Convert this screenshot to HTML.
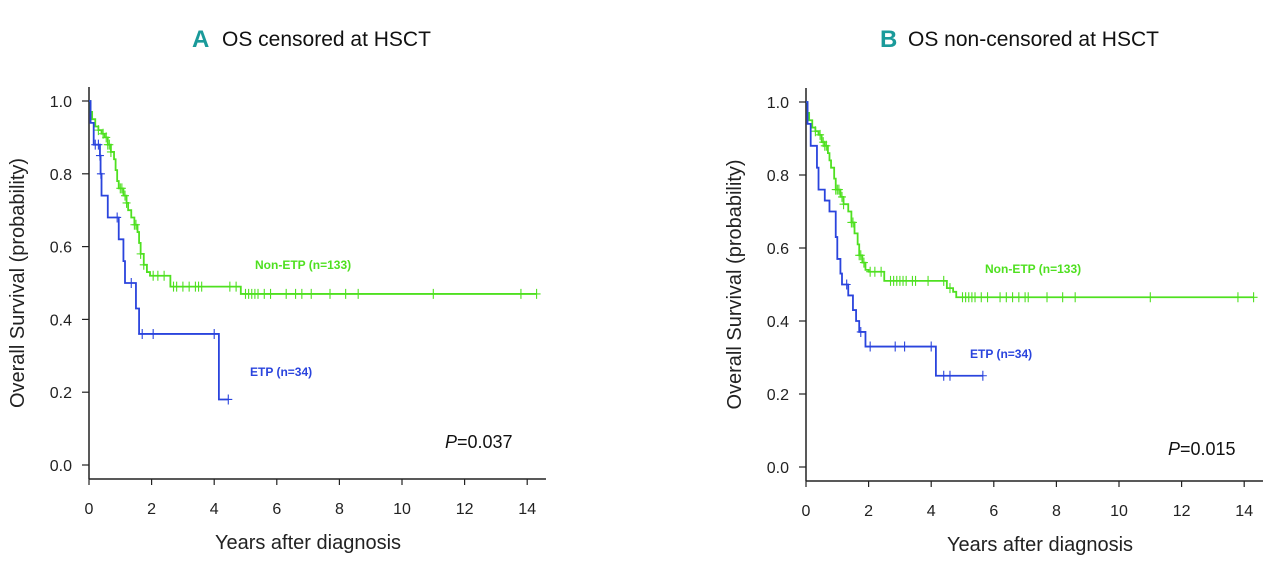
<!DOCTYPE html>
<html><head><meta charset="utf-8"><style>
body{margin:0;background:#fff;width:1280px;height:561px;overflow:hidden}
svg{display:block}
text{font-family:"Liberation Sans",sans-serif}
</style></head><body>
<svg id="fig" width="1280" height="561" xmlns="http://www.w3.org/2000/svg">
<text x="192" y="47" font-size="24" font-weight="bold" fill="#1a9a9a">A</text>
<text x="222" y="46" font-size="21" fill="#111">OS censored at HSCT</text>
<text x="880" y="47" font-size="24" font-weight="bold" fill="#1a9a9a">B</text>
<text x="908" y="46" font-size="21" fill="#111">OS non-censored at HSCT</text>
</svg>
<script>
const xTicks=[0,2,4,6,8,10,12,14];
const yTicks=[0,0.2,0.4,0.6,0.8,1.0];
const yTickLabels=["0.0","0.2","0.4","0.6","0.8","1.0"];
// Panel A
const aEtpSteps=[[0,1],[0.05,0.94],[0.15,0.88],[0.35,0.85],[0.37,0.80],[0.4,0.74],[0.6,0.68],[0.95,0.62],[1.1,0.56],[1.15,0.50],[1.5,0.43],[1.6,0.36],[4.15,0.18]];
const aEtpEnd=4.45;
const aEtpCensor=[0.2,0.3,0.35,0.38,0.9,1.35,1.7,2.05,4.0,4.45];
const aNonSteps=[[0,1],[0.05,0.97],[0.1,0.95],[0.2,0.93],[0.3,0.92],[0.4,0.91],[0.5,0.90],[0.6,0.88],[0.7,0.86],[0.8,0.84],[0.85,0.81],[0.9,0.78],[0.95,0.76],[1.1,0.74],[1.2,0.72],[1.25,0.70],[1.35,0.68],[1.45,0.66],[1.55,0.64],[1.6,0.61],[1.65,0.58],[1.75,0.55],[1.85,0.53],[1.95,0.52],[2.6,0.49],[4.85,0.47]];
const aNonEnd=14.3;
const aNonCensor=[0.3,0.45,0.55,0.6,0.65,0.7,1.0,1.05,1.15,1.2,1.45,1.5,1.65,1.75,2.05,2.2,2.4,2.7,2.8,3.0,3.2,3.4,3.5,3.6,4.5,4.7,5.0,5.1,5.2,5.3,5.4,5.6,5.8,6.3,6.6,6.8,7.1,7.7,8.2,8.6,11.0,13.8,14.3];
// Panel B
const bEtpSteps=[[0,1],[0.05,0.94],[0.15,0.88],[0.35,0.82],[0.4,0.76],[0.6,0.73],[0.75,0.70],[0.95,0.63],[1.0,0.57],[1.1,0.53],[1.15,0.50],[1.35,0.47],[1.5,0.43],[1.6,0.40],[1.7,0.37],[1.9,0.33],[4.15,0.25]];
const bEtpEnd=5.65;
const bEtpCensor=[1.3,1.75,2.05,2.85,3.15,4.0,4.4,4.6,5.65];
const bNonSteps=[[0,1],[0.05,0.97],[0.1,0.95],[0.2,0.93],[0.3,0.92],[0.4,0.91],[0.5,0.89],[0.6,0.88],[0.7,0.86],[0.75,0.84],[0.8,0.82],[0.9,0.79],[0.95,0.76],[1.1,0.74],[1.2,0.72],[1.35,0.70],[1.45,0.67],[1.55,0.64],[1.65,0.61],[1.7,0.58],[1.8,0.56],[1.9,0.54],[2.0,0.535],[2.5,0.51],[4.5,0.49],[4.7,0.48],[4.8,0.465]];
const bNonEnd=14.3;
const bNonCensor=[0.3,0.45,0.55,0.6,0.65,0.95,1.0,1.05,1.15,1.2,1.45,1.5,1.7,1.75,1.85,2.05,2.2,2.4,2.7,2.8,2.9,3.0,3.1,3.2,3.4,3.5,3.9,4.4,4.6,5.0,5.1,5.2,5.3,5.4,5.6,5.8,6.2,6.4,6.6,6.8,7.0,7.1,7.7,8.2,8.6,11.0,13.8,14.3];

const NS="http://www.w3.org/2000/svg";
const svg=document.getElementById('fig');
function mk(tag,attrs,parent){const e=document.createElementNS(NS,tag);for(const k in attrs)e.setAttribute(k,attrs[k]);(parent||svg).appendChild(e);return e;}
function survAt(steps,t){let s=1;for(const p of steps){if(p[0]<=t)s=p[1];}return s;}
function panel(cfg){
  const g=mk('g',{});
  
  
  const X=t=>cfg.x0+t*cfg.px;
  const Y=v=>cfg.y0-v*(cfg.y0-cfg.y1);
  const yl=mk('line',{x1:cfg.x0,y1:cfg.y1-14,x2:cfg.x0,y2:cfg.axisY,stroke:'#222','stroke-width':1.5},g);
  
  const xl=mk('line',{x1:cfg.x0,y1:cfg.axisY,x2:X(14.6),y2:cfg.axisY,stroke:'#222','stroke-width':1.5},g);
  
  yTicks.forEach((v,i)=>{
    mk('line',{x1:cfg.x0-7,y1:Y(v),x2:cfg.x0,y2:Y(v),stroke:'#222','stroke-width':1.2},g);
    const t=mk('text',{x:cfg.x0-17,y:Y(v)+6,'font-size':16,'text-anchor':'end',fill:'#222'},g);
    t.textContent=yTickLabels[i];
    
  });
  xTicks.forEach(v=>{
    mk('line',{x1:X(v),y1:cfg.axisY,x2:X(v),y2:cfg.axisY+6,stroke:'#222','stroke-width':1.2},g);
    const t=mk('text',{x:X(v),y:cfg.axisY+35,'font-size':16,'text-anchor':'middle',fill:'#222'},g);
    t.textContent=v;
    
  });
  const xt=mk('text',{x:cfg.xTitleX,y:cfg.axisY+70,'font-size':20,'text-anchor':'middle',fill:'#222'},g);
  xt.textContent='Years after diagnosis';
  
  const cy=(cfg.y1+cfg.y0)/2;
  const yt=mk('text',{x:cfg.x0-65,y:cy,'font-size':20,'text-anchor':'middle',fill:'#222',transform:`rotate(-90 ${cfg.x0-65} ${cy})`},g);
  yt.textContent='Overall Survival (probability)';
  
  cfg.series.forEach(s=>{
    let d=`M${X(0)},${Y(1)}`;
    s.steps.forEach(p=>{d+=` H${X(p[0])} V${Y(p[1])}`;});
    d+=` H${X(s.end)}`;
    const path=mk('path',{d:d,fill:'none',stroke:s.color,'stroke-width':1.8},g);
    
    s.censor.forEach(t=>{
      const v=survAt(s.steps,t);
      const c=mk('path',{d:`M${X(t)},${Y(v)-5} V${Y(v)+5} M${X(t)-4},${Y(v)} H${X(t)+4}`,stroke:s.color,'stroke-width':1.1,fill:'none'},g);
      
    });
    const lb=mk('text',{x:s.lx,y:s.ly,'font-size':12,'font-weight':'bold',fill:s.color},g);
    lb.textContent=s.label;
    
  });
  const pv=mk('text',{x:cfg.px0,y:cfg.py,'font-size':18,fill:'#111'},g);
  pv.innerHTML=`<tspan font-style="italic">P</tspan>=${cfg.pval}`;
  
}
panel({name:'panel-a-chart',x0:89,px:31.3,y0:465,y1:101,axisY:479,xTitleX:308,px0:445,py:448,pval:'0.037',
 series:[{name:'non-etp',color:'#4fe020',steps:aNonSteps,end:aNonEnd,censor:aNonCensor,label:'Non-ETP (n=133)',lx:255,ly:269},
         {name:'etp',color:'#2a44dd',steps:aEtpSteps,end:aEtpEnd,censor:aEtpCensor,label:'ETP (n=34)',lx:250,ly:376}]});
panel({name:'panel-b-chart',x0:806,px:31.3,y0:467,y1:102,axisY:481,xTitleX:1040,px0:1168,py:455,pval:'0.015',
 series:[{name:'non-etp',color:'#4fe020',steps:bNonSteps,end:bNonEnd,censor:bNonCensor,label:'Non-ETP (n=133)',lx:985,ly:273},
         {name:'etp',color:'#2a44dd',steps:bEtpSteps,end:bEtpEnd,censor:bEtpCensor,label:'ETP (n=34)',lx:970,ly:358}]});
</script>
</body></html>
